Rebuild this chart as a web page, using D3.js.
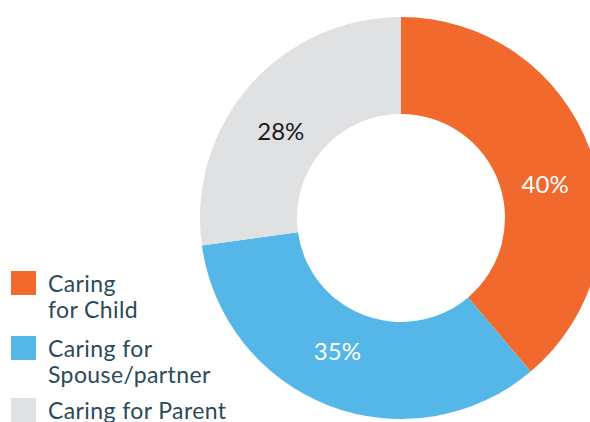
<!DOCTYPE html>
<html>
<head>
<meta charset="utf-8">
<script src="https://cdn.jsdelivr.net/npm/d3@7"></script>
<style>
  html, body { margin: 0; padding: 0; background: #fff; }
  svg { display: block; font-family: Lato, "Open Sans", sans-serif; }
</style>
</head>
<body>
<div id="chart"></div>
<script>
// data
const categories = ["Caring for Child", "Caring for Spouse/partner", "Caring for Parent"];
const values = [40, 35, 28];
const labels = ["40%", "35%", "28%"];
const legendLines = [["Caring", "for Child"], ["Caring for", "Spouse/partner"], ["Caring for Parent"]];
const colors = ["#f2692e", "#55b7e8", "#e0e1e3"];
const labelColors = ["#ffffff", "#ffffff", "#1a1a1a"];

const width = 590;
const height = 422;
const cx = 401;
const cy = 218;
const outerR = 201;
const innerR = 104;
const labelR = 148;
// small angular nudges (degrees) so labels sit where the original put them
const labelShift = [7, 4.5, -5.4];

const svg = d3.select("#chart").append("svg")
    .attr("width", width)
    .attr("height", height)
    .attr("viewBox", [0, 0, width, height]);

const pie = d3.pie().sort(null).value(d => d);
const arc = d3.arc().innerRadius(innerR).outerRadius(outerR);

const arcs = pie(values);

const g = svg.append("g")
    .attr("transform", `translate(${cx},${cy})`);

g.selectAll("path")
  .data(arcs)
  .join("path")
    .attr("d", arc)
    .attr("fill", (d, i) => colors[i]);

// percentage labels
g.selectAll("text")
  .data(arcs)
  .join("text")
    .attr("transform", (d, i) => {
      const a = (d.startAngle + d.endAngle) / 2 + labelShift[i] * Math.PI / 180;
      return `translate(${labelR * Math.sin(a)},${-labelR * Math.cos(a)})`;
    })
    .attr("text-anchor", "middle")
    .attr("dy", "0.35em")
    .attr("font-size", 24)
    .attr("fill", (d, i) => labelColors[i])
    .text((d, i) => labels[i]);

// legend
const legendY = [271, 336, 398];
const legend = svg.append("g")
  .selectAll("g")
  .data(categories)
  .join("g")
    .attr("transform", (d, i) => `translate(11,${legendY[i]})`);

legend.append("rect")
    .attr("width", 25)
    .attr("height", 24)
    .attr("fill", (d, i) => colors[i]);

legend.append("text")
    .attr("x", 37)
    .attr("y", 21)
    .attr("font-size", 23)
    .attr("letter-spacing", 0.4)
    .attr("fill", "#2b4a5a")
  .selectAll("tspan")
  .data((d, i) => legendLines[i])
  .join("tspan")
    .attr("x", 37)
    .attr("dy", (d, j) => j === 0 ? 0 : 26)
    .text(d => d);
</script>
</body>
</html>
